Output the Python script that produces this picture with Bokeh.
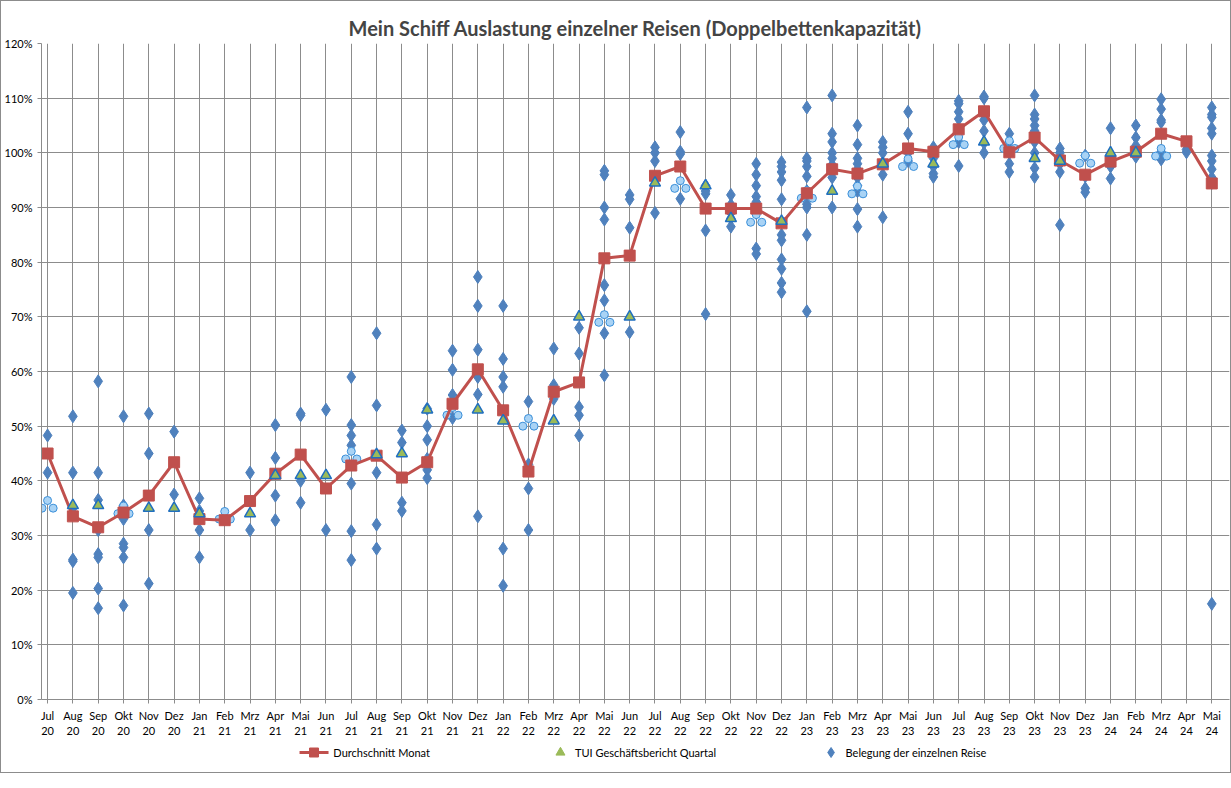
from bokeh.plotting import figure
from bokeh.layouts import column
from bokeh.models import FixedTicker, PrintfTickFormatter, Range1d
from bokeh.core.properties import value
from bokeh.embed import file_html
from bokeh.resources import INLINE

months = ["Jul\n20", "Aug\n20", "Sep\n20", "Okt\n20", "Nov\n20", "Dez\n20",
          "Jan\n21", "Feb\n21", "Mrz\n21", "Apr\n21", "Mai\n21", "Jun\n21",
          "Jul\n21", "Aug\n21", "Sep\n21", "Okt\n21", "Nov\n21", "Dez\n21",
          "Jan\n22", "Feb\n22", "Mrz\n22", "Apr\n22", "Mai\n22", "Jun\n22",
          "Jul\n22", "Aug\n22", "Sep\n22", "Okt\n22", "Nov\n22", "Dez\n22",
          "Jan\n23", "Feb\n23", "Mrz\n23", "Apr\n23", "Mai\n23", "Jun\n23",
          "Jul\n23", "Aug\n23", "Sep\n23", "Okt\n23", "Nov\n23", "Dez\n23",
          "Jan\n24", "Feb\n24", "Mrz\n24", "Apr\n24", "Mai\n24"]

# Durchschnitt Monat (%)
avg = [45.0, 33.5, 31.5, 34.2, 37.3, 43.4, 33.0, 32.8, 36.3, 41.3, 44.8, 38.6,
       42.8, 44.6, 40.6, 43.4, 54.1, 60.4, 52.9, 41.7, 56.3, 58.0, 80.7, 81.2,
       95.8, 97.5, 89.8, 89.8, 89.8, 87.1, 92.6, 97.0, 96.2, 97.9, 100.8, 100.2,
       104.3, 107.6, 100.1, 102.8, 98.6, 96.0, 98.4, 100.2, 103.5, 102.1, 94.4]

# TUI Geschäftsbericht Quartal: (month index, %)
tui_idx = [1, 2, 4, 5, 6, 8, 9, 10, 11, 13, 14, 15, 17, 18, 20, 21, 23, 24, 26, 27,
           29, 31, 33, 35, 37, 39, 40, 42, 43]
tui_val = [35.5, 35.5, 35.0, 35.0, 34.0, 34.0, 41.0, 41.0, 41.0, 44.8, 45.0, 53.0,
           53.0, 51.0, 51.0, 70.0, 70.0, 94.5, 94.0, 88.0, 87.5, 93.0, 98.0, 98.0,
           102.0, 99.0, 98.5, 100.0, 100.0]

# extra marker series (not in legend)
tre_idx = [0, 3, 7, 12, 16, 19, 22, 25, 28, 30, 32, 34, 36, 38, 41, 44]
tre_val = [35.5, 34.5, 33.5, 44.5, 52.5, 50.5, 69.5, 94.0, 87.8, 92.2, 93.0, 98.0,
           102.0, 101.3, 98.6, 99.9]

# Belegung der einzelnen Reise, per month
trips = [
    [48.3, 41.5],
    [51.8, 41.5, 35, 25.6, 25.3, 19.5],
    [58.2, 41.5, 36.5, 31, 26.6, 26, 20.3, 16.7],
    [51.8, 35.5, 33, 28.5, 27.8, 26, 17.2],
    [52.3, 45, 31, 21.2],
    [49, 37.5],
    [36.8, 34.5, 31, 26],
    [],
    [41.5, 31],
    [50.2, 44.2, 37.3, 32.8],
    [52.3, 52, 40, 36],
    [53, 31],
    [59, 50.2, 48.3, 46.5, 39.5, 30.8, 25.5],
    [67, 53.8, 41.5, 32, 27.6],
    [49.2, 47, 36, 34.5],
    [53.2, 50, 47.5, 44, 42, 40.5],
    [63.8, 60.3, 55.7, 51.5],
    [77.3, 72, 64, 59, 55.8, 33.5],
    [72, 62.3, 59, 57.2, 27.6, 20.8],
    [54.5, 43, 38.6, 31],
    [64.2, 57.5, 55],
    [68, 63.3, 53.5, 52, 48.3],
    [96.7, 96, 90, 87.8, 75.8, 73, 67, 59.3],
    [92.3, 91.5, 86.3, 67.2],
    [101, 100, 98.5, 89],
    [103.8, 100.2, 99.8, 91.6],
    [94, 93, 92.5, 85.8, 70.5],
    [92.3, 90.5, 89, 88, 86.5],
    [98, 96, 94, 92, 91, 89, 82.5, 81.5],
    [98.3, 97.5, 96.5, 95, 91.5, 85, 84, 80.5, 78.8, 76.2, 74.5],
    [108.3, 99, 98.5, 97.5, 95.7, 93, 90.6, 90, 85, 71],
    [110.5, 103.5, 102, 100, 99, 97.8, 96.5, 95.5, 90],
    [105, 101.5, 99, 98, 97, 95.5, 94, 93, 89.7, 86.5],
    [102, 101, 100, 96, 88.2],
    [107.5, 103.5, 100, 98.5],
    [101, 100.2, 99, 97.5, 96.2, 95.6],
    [109.5, 109, 107.5, 106.2, 104, 102, 97.6],
    [110.3, 110, 107, 106, 104, 101.8, 100],
    [103.5, 102, 100, 98, 96.5],
    [110.5, 107, 106.2, 105, 104, 102, 100, 97.2, 95.6],
    [100.8, 100, 99, 98, 96.5, 86.8],
    [99.5, 95.7, 93.5, 92.8],
    [104.5, 99.5, 97.5, 95.3],
    [105, 102.8, 101.3, 100, 99.3],
    [109.8, 108, 106, 105.6, 100.2, 98.8],
    [101.8, 100.6, 100.1],
    [108.3, 107, 106.5, 104.5, 103.5, 99.5, 98.5, 97, 95.5, 94.5, 17.5],
]

legend_labels = ["Durchschnitt Monat", "TUI Geschäftsbericht Quartal",
                 "Belegung der einzelnen Reise"]

FONT = "Lato"
GRID = "#8c8c8c"
RED = "#C0504D"
BLUE = "#4F81BD"
GREEN = "#9BBB59"

p = figure(frame_width=1188, frame_height=656, output_backend="svg", toolbar_location=None,
           x_range=Range1d(-0.24, 46.7), y_range=Range1d(0, 120),
           min_border_left=32, min_border_right=1, min_border_top=42,
           min_border_bottom=0)
p.title.text = "Mein Schiff Auslastung einzelner Reisen (Doppelbettenkapazität)"
p.title.align = "center"
p.title.text_font = FONT
p.title.text_font_size = "20px"
p.title.text_font_style = "bold"
p.title.standoff = 8

p.xaxis.ticker = FixedTicker(ticks=list(range(len(months))))
p.xaxis.major_label_overrides = {i: m for i, m in enumerate(months)}
p.yaxis.ticker = FixedTicker(ticks=list(range(0, 121, 10)))
p.yaxis.formatter = PrintfTickFormatter(format="%d%%")
for ax in (p.xaxis, p.yaxis):
    ax.major_label_text_font = FONT
    ax.major_label_text_font_size = "11px"
    ax.major_label_text_color = "#000000"
    ax.axis_line_color = GRID
    ax.major_tick_line_color = GRID
    ax.major_tick_out = 4
    ax.major_tick_in = 0
    ax.minor_tick_line_color = None
p.xgrid.grid_line_color = GRID
p.ygrid.grid_line_color = GRID
p.outline_line_color = None

tx = [i for i, vals in enumerate(trips) for _ in vals]
ty = [v for vals in trips for v in vals]
p.scatter(tx, ty, marker="diamond", size=13, fill_color=BLUE, line_color=BLUE)

# trefoil markers
for dx, dy in ((0, 0.9), (-0.22, -0.5), (0.22, -0.5)):
    p.scatter([i + dx for i in tre_idx], [v + dy for v in tre_val], marker="circle",
              size=8, fill_color="#A9D3F5", line_color="#3A8FD9", line_width=1)

p.line(list(range(len(avg))), avg, line_color=RED, line_width=3)
p.scatter(list(range(len(avg))), avg, marker="square", size=11,
          fill_color=RED, line_color=RED)
p.scatter(tui_idx, tui_val, marker="triangle", size=11, fill_color=GREEN,
          line_color="#1F6FC0", line_width=1.5)

# legend drawn as its own strip below the chart
lg = figure(width=p.frame_width + 33, height=32, output_backend="svg",
            toolbar_location=None, x_range=Range1d(0, 1221), y_range=Range1d(0, 32),
            min_border=0)
lg.axis.visible = False
lg.grid.visible = False
lg.outline_line_color = None
lg.line([267, 297], [20, 20], line_color=RED, line_width=3)
lg.scatter([282], [20], marker="square", size=9, fill_color=RED, line_color=RED)
lg.scatter([537], [20], marker="triangle", size=9, fill_color=GREEN, line_color=GREEN)
lg.scatter([817], [20], marker="diamond", size=10, fill_color=BLUE, line_color=BLUE)
lg.text([302, 552, 832], [20, 20, 20], text=legend_labels, text_font=value(FONT),
        text_font_size="11px", text_baseline="middle", text_color="#000000")

layout = column(p, lg, spacing=0)
layout.styles = {"border": "1px solid #8c8c8c"}

open("out.html", "w").write(file_html(layout, INLINE))
